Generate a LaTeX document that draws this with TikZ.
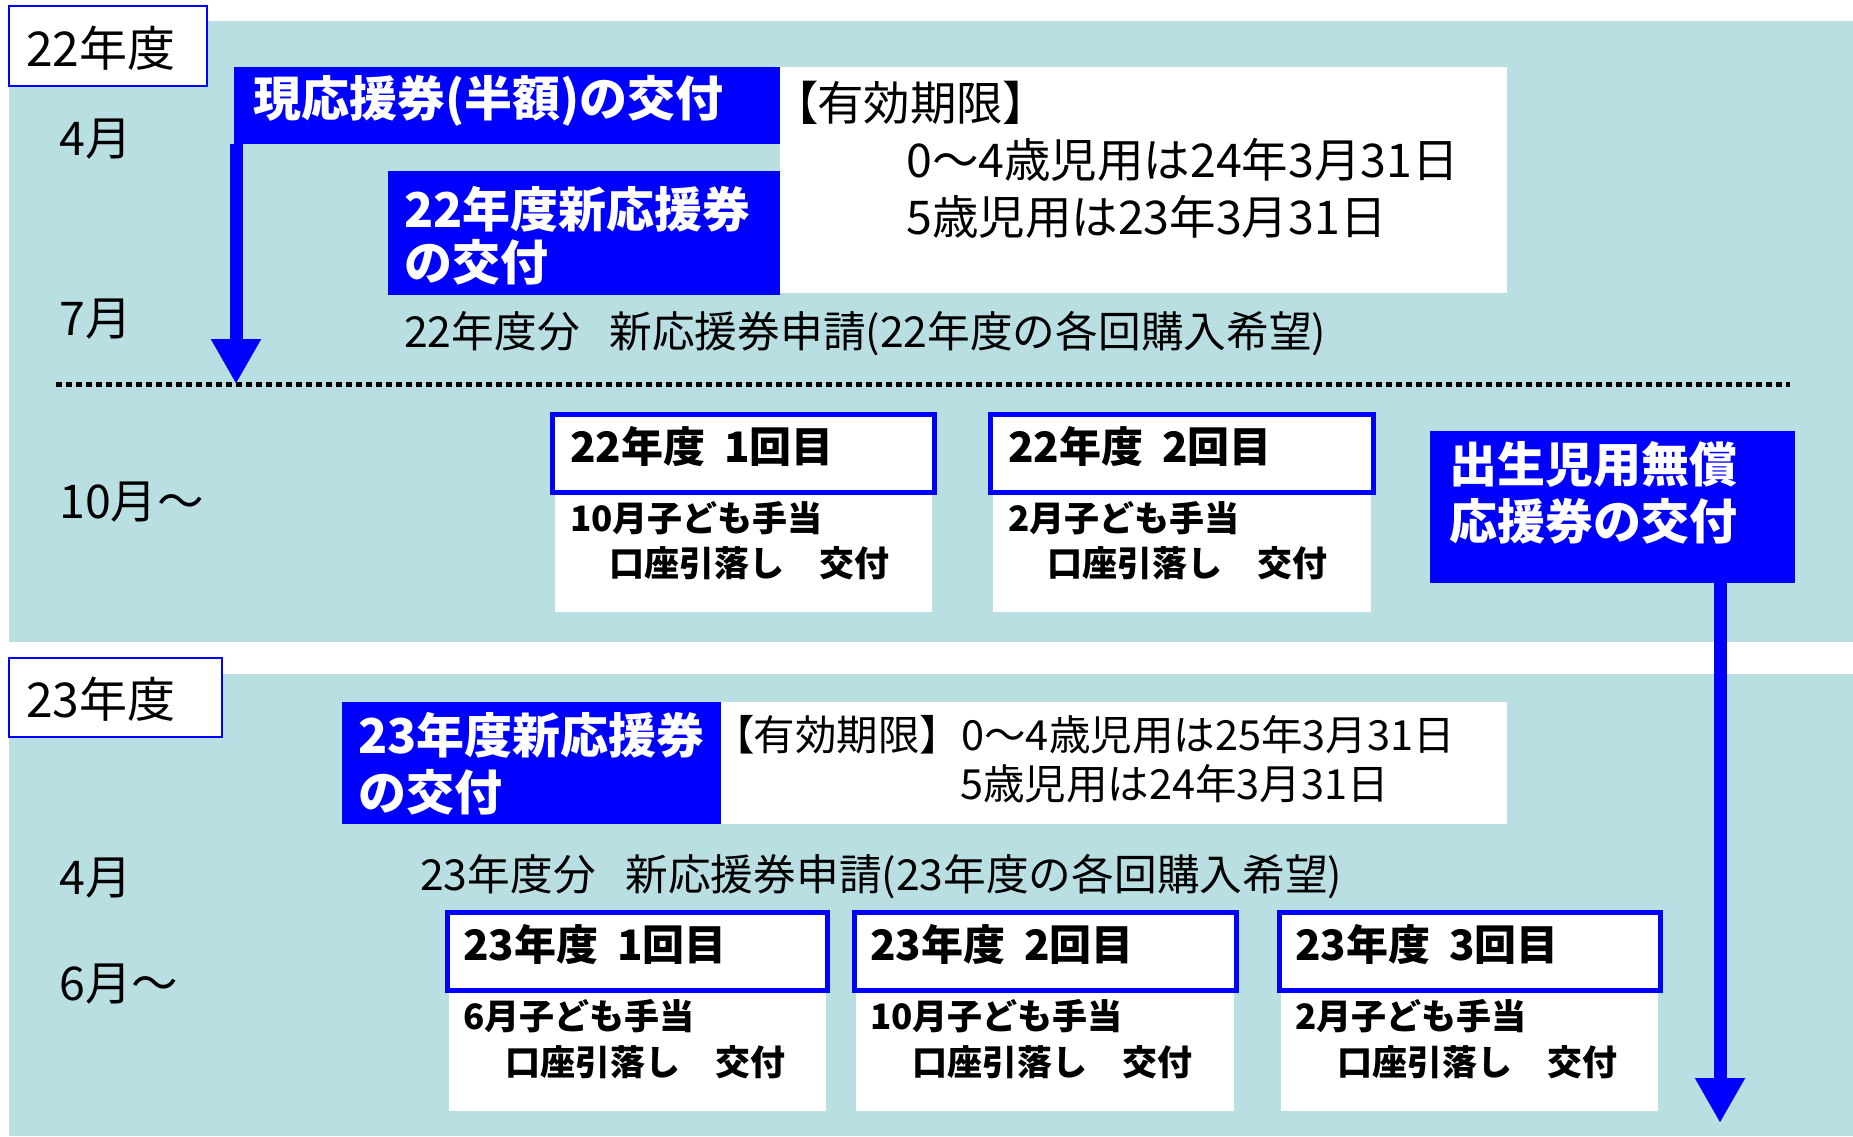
\documentclass[tikz,border=0pt]{standalone}
\usepackage{fontspec}
\setmainfont{Noto Sans CJK JP}
\newfontfamily\pfont{Noto Sans CJK JP}[RawFeature=+palt]
\usetikzlibrary{arrows.meta}
\definecolor{bgteal}{RGB}{185,223,227}
\definecolor{pblue}{RGB}{0,0,255}
\newcommand{\lbr}{{\pfont 【}}
\newcommand{\rbr}{{\pfont 】}}
\begin{document}
\begin{tikzpicture}[x=1pt,y=-1pt,
  rect/.style={anchor=north west, inner sep=0pt, outer sep=0pt, draw=none},
  bgbox/.style={rect, fill=bgteal},
  bluebox/.style={rect, fill=pblue},
  whitebox/.style={rect, fill=white},
  yearbox/.style={rect, fill=white, draw=pblue, line width=2pt},
  headbox/.style={rect, fill=white, draw=pblue, line width=5pt},
  txt/.style={anchor=west, inner sep=0pt},
  yr/.style={txt, font=\fontsize{48}{54}\selectfont},
  mon/.style={txt, font=\fontsize{46.5}{52}\selectfont},
  wt/.style={txt, white, font=\fontsize{48}{56}\selectfont\bfseries},
  valA/.style={txt, font=\fontsize{46.5}{52}\selectfont},
  valB/.style={txt, font=\fontsize{41.5}{48}\selectfont},
  appl/.style={txt, font=\fontsize{42.7}{50}\selectfont},
  hd/.style={txt, font=\fontsize{42}{48}\selectfont\bfseries},
  bd/.style={txt, font=\fontsize{35}{40}\selectfont\bfseries},
  bigarrow/.style={pblue, line width=13pt, -{Triangle[width=47pt,length=45pt]}},
  dots/.style={line width=5pt, dash pattern=on 6pt off 4pt}
]
\useasboundingbox (0,0) rectangle (1853,1136);
\fill[white] (0,0) rectangle (1853,1136);

% backgrounds
\node[bgbox, minimum width=1844pt, minimum height=621pt] (bg1) at (9,21) {};
\node[bgbox, minimum width=1844pt, minimum height=462pt] (bg2) at (9,674) {};

% year labels
\node[yearbox, minimum width=198pt, minimum height=80pt] (y22) at (9,6) {};
\node[yr] (y22t) at (26,48) {22年度};
\node[yearbox, minimum width=213pt, minimum height=79pt] (y23) at (9,658) {};
\node[yr] (y23t) at (26,699) {23年度};

% month labels
\node[mon] (m4a) at (59,139) {4月};
\node[mon] (m7) at (59,319) {7月};
\node[mon] (m10) at (59,502) {10月～};
\node[mon] (m4b) at (59,878) {4月};
\node[mon] (m6) at (59,984) {6月～};

% 22 top area
\node[whitebox, minimum width=727pt, minimum height=226pt] (w1) at (780,67) {};
\node[bluebox, minimum width=546pt, minimum height=77pt] (b1) at (234,67) {};
\node[wt] (b1t) at (253,101) {現応援券(半額)の交付};
\node[bluebox, minimum width=392pt, minimum height=124pt] (b2) at (388,171) {};
\node[wt] (b2t1) at (404,209) {22年度新応援券};
\node[wt] (b2t2) at (404,262) {の交付};
\node[valA] (v1) at (794,103) {\lbr 有効期限\rbr};
\node[valA] (v2) at (906,160) {0～4歳児用は24年3月31日};
\node[valA] (v3) at (906,217) {5歳児用は23年3月31日};
\node[appl] (ap22) at (404,334) {22年度分\hspace{0.7em}新応援券申請(22年度の各回購入希望)};

% dotted separator
\coordinate (d1) at (56,384);
\coordinate (d2) at (1790,384);
\draw[dots] (d1) -- (d2);

% left arrow
\coordinate (a1) at (236,384);
\draw[bigarrow] ([xshift=2pt]b1.south west) -- (a1);

% 22 rounds
\node[whitebox, minimum width=377pt, minimum height=120pt] (r1b) at (555,492) {};
\node[headbox, minimum width=382pt, minimum height=78pt] (r1h) at (552,414) {};
\node[hd] (r1ht) at (570,447) {22年度\hspace{0.45em}1回目};
\node[bd] (r1t1) at (570,518) {10月子ども手当};
\node[bd] (r1t2) at (609,563) {口座引落し　交付};

\node[whitebox, minimum width=378pt, minimum height=120pt] (r2b) at (993,492) {};
\node[headbox, minimum width=383pt, minimum height=78pt] (r2h) at (990,414) {};
\node[hd] (r2ht) at (1008,447) {22年度\hspace{0.45em}2回目};
\node[bd] (r2t1) at (1008,518) {2月子ども手当};
\node[bd] (r2t2) at (1047,563) {口座引落し　交付};

% birth box and right arrow
\node[bluebox, minimum width=365pt, minimum height=152pt] (b4) at (1430,431) {};
\node[wt] (b4t1) at (1449,464) {出生児用無償};
\node[wt] (b4t2) at (1449,521) {応援券の交付};
\coordinate (a2) at (1720,1123);
\draw[bigarrow] (b4.south -| a2) -- (a2);

% 23 top area
\node[whitebox, minimum width=786pt, minimum height=122pt] (w3) at (721,702) {};
\node[bluebox, minimum width=379pt, minimum height=122pt] (b3) at (342,702) {};
\node[wt] (b3t1) at (358,735) {23年度新応援券};
\node[wt] (b3t2) at (358,792) {の交付};
\node[valB] (v4) at (733,735) {\lbr 有効期限】0～4歳児用は25年3月31日};
\node[valB] (v5) at (960,784) {5歳児用は24年3月31日};
\node[appl] (ap23) at (420,877) {23年度分\hspace{0.7em}新応援券申請(23年度の各回購入希望)};

% 23 rounds
\node[whitebox, minimum width=377pt, minimum height=121pt] (s1b) at (449,990) {};
\node[headbox, minimum width=380pt, minimum height=78pt] (s1h) at (447,912) {};
\node[hd] (s1ht) at (463,945) {23年度\hspace{0.45em}1回目};
\node[bd] (s1t1) at (463,1016) {6月子ども手当};
\node[bd] (s1t2) at (505,1062) {口座引落し　交付};

\node[whitebox, minimum width=378pt, minimum height=121pt] (s2b) at (856,990) {};
\node[headbox, minimum width=382pt, minimum height=78pt] (s2h) at (854,912) {};
\node[hd] (s2ht) at (870,945) {23年度\hspace{0.45em}2回目};
\node[bd] (s2t1) at (870,1016) {10月子ども手当};
\node[bd] (s2t2) at (912,1062) {口座引落し　交付};

\node[whitebox, minimum width=377pt, minimum height=121pt] (s3b) at (1281,990) {};
\node[headbox, minimum width=381pt, minimum height=78pt] (s3h) at (1279,912) {};
\node[hd] (s3ht) at (1295,945) {23年度\hspace{0.45em}3回目};
\node[bd] (s3t1) at (1295,1016) {2月子ども手当};
\node[bd] (s3t2) at (1337,1062) {口座引落し　交付};
\end{tikzpicture}
\end{document}
